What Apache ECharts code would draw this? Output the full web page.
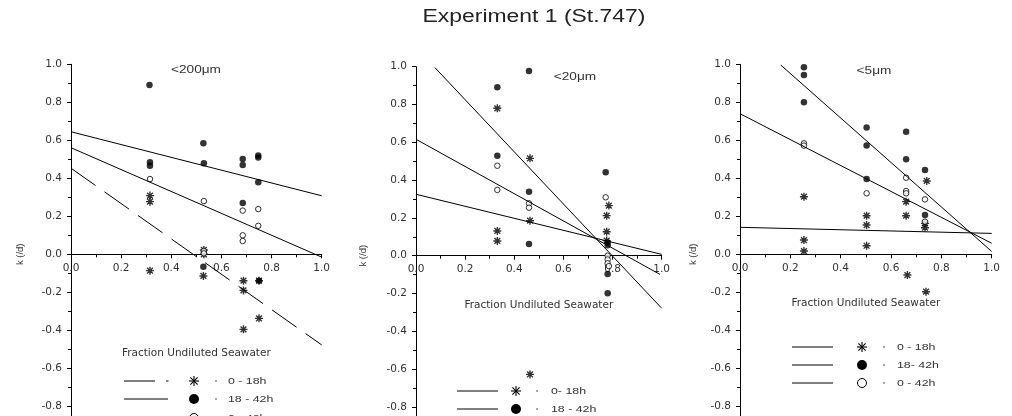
<!DOCTYPE html>
<html>
<head>
<meta charset="utf-8">
<script src="https://cdn.jsdelivr.net/npm/echarts@6/dist/echarts.min.js"></script>
<style>html,body{margin:0;padding:0;background:#fff}#c{width:1012px;height:416px}</style>
</head>
<body>
<div id="c"></div>
<script>
// ---- data ----
var title = 'Experiment 1 (St.747)';
var panelLabels = ['<200μm', '<20μm', '<5μm'];
var xName = 'Fraction Undiluted Seawater';
var yName = 'k (/d)';
var seriesNames = ['0 - 18h', '18 - 42h', '0 - 42h'];
var legendTexts = [
  ['0 - 18h', '18 - 42h', '0 - 42h'],
  ['0- 18h', '18 - 42h', '0 - 42h'],
  ['0 - 18h', '18- 42h', '0 - 42h']
];
var xTicks = [0, 0.2, 0.4, 0.6, 0.8, 1.0];
var yTicks = [-1.0, -0.8, -0.6, -0.4, -0.2, 0.0, 0.2, 0.4, 0.6, 0.8, 1.0];

// panel 1 (<200um)
var p1_0_18 = [[0.315,0.309],[0.315,0.277],[0.315,-0.086],[0.53,0.023],[0.53,0.0],[0.528,-0.114],[0.688,-0.139],[0.75,-0.139],[0.688,-0.19],[0.75,-0.337],[0.688,-0.395]];
var p1_18_42 = [[0.313,0.891],[0.315,0.484],[0.315,0.466],[0.528,0.584],[0.53,0.479],[0.685,0.501],[0.685,0.47],[0.747,0.52],[0.747,0.51],[0.747,0.379],[0.685,0.27],[0.528,-0.065],[0.75,-0.139]];
var p1_0_42 = [[0.315,0.396],[0.53,0.28],[0.685,0.23],[0.747,0.238],[0.747,0.15],[0.685,0.1],[0.685,0.07],[0.53,0.018],[0.53,0.005]];
var p1_fit_0_18 = [[0,0.453],[1,-0.477]];
var p1_fit_18_42 = [[0,0.645],[1,0.308]];
var p1_fit_0_42 = [[0,0.561],[1,-0.015]];

// panel 2 (<20um)
var p2_0_18 = [[0.331,0.78],[0.464,0.515],[0.464,0.185],[0.331,0.131],[0.331,0.078],[0.785,0.265],[0.776,0.212],[0.776,0.127],[0.776,0.08],[0.464,-0.628]];
var p2_18_42 = [[0.331,0.891],[0.46,0.977],[0.331,0.529],[0.46,0.339],[0.46,0.062],[0.772,0.441],[0.78,0.07],[0.78,0.055],[0.78,-0.097],[0.78,-0.199]];
var p2_0_42 = [[0.331,0.476],[0.331,0.348],[0.46,0.277],[0.46,0.254],[0.772,0.309],[0.78,0.0],[0.78,-0.02],[0.78,-0.04],[0.785,-0.055]];
var p2_fit_0_18 = [[0,0.325],[1,0.007]];
var p2_fit_18_42 = [[0.077,0.995],[1,-0.278]];
var p2_fit_0_42 = [[0,0.616],[0.993,-0.099]];

// panel 3 (<5um)
var p3_0_18 = [[0.254,0.303],[0.254,0.075],[0.254,0.017],[0.503,0.203],[0.503,0.154],[0.503,0.045],[0.66,0.277],[0.66,0.203],[0.742,0.386],[0.735,0.163],[0.735,0.14],[0.665,-0.109],[0.739,-0.197]];
var p3_18_42 = [[0.254,0.984],[0.254,0.944],[0.254,0.8],[0.503,0.668],[0.503,0.572],[0.503,0.396],[0.66,0.645],[0.66,0.5],[0.735,0.444],[0.735,0.207]];
var p3_0_42 = [[0.254,0.584],[0.254,0.572],[0.503,0.321],[0.66,0.403],[0.66,0.333],[0.66,0.321],[0.735,0.289],[0.735,0.172]];
var p3_fit_0_18 = [[0,0.142],[1,0.11]];
var p3_fit_18_42 = [[0.162,0.996],[1,0.015]];
var p3_fit_0_42 = [[0,0.74],[1,0.058]];

var panels = [
  {pts:[p1_0_18,p1_18_42,p1_0_42], fits:[p1_fit_0_18,p1_fit_18_42,p1_fit_0_42]},
  {pts:[p2_0_18,p2_18_42,p2_0_42], fits:[p2_fit_0_18,p2_fit_18_42,p2_fit_0_42]},
  {pts:[p3_0_18,p3_18_42,p3_0_42], fits:[p3_fit_0_18,p3_fit_18_42,p3_fit_0_42]}
];

// ---- layout / style ----
var grids = [
  {left:71, top:64.3, width:250.7, height:380},
  {left:416, top:66.7, width:245.7, height:378},
  {left:740, top:64.3, width:251.7, height:380}
];
var xNameGap = [93, 44, 43];
var yNameGap = [46, 48, 42];
var TXT = '#333';
var SX = 1.3;
var ASTER = 'path://M0,-5L0,5M-5,0L5,0M-3.6,-3.6L3.6,3.6M-3.6,3.6L3.6,-3.6';

var option = {
  backgroundColor:'#fff',
  animation:false,
  grid: grids.map(function(g){return Object.assign({containLabel:false, outerBoundsMode:'none'}, g);}),
  xAxis: grids.map(function(g,i){return {
    type:'value', gridIndex:i, min:xTicks[0], max:xTicks[xTicks.length-1], interval:0.2,
    position:'bottom', offset:-g.height/2,
    name:xName, nameLocation:'middle', nameGap:xNameGap[i],
    nameTextStyle:{fontFamily:'DejaVu Sans', fontSize:10.5, color:TXT},
    axisLine:{onZero:false, lineStyle:{color:'#000', width:1}},
    axisTick:{show:true, length:4, lineStyle:{color:'#000'}},
    minorTick:{show:true, splitNumber:2, length:3, lineStyle:{color:'#000'}},
    splitLine:{show:false},
    axisLabel:{show:true, formatter:function(v){return v.toFixed(1);}, fontFamily:'DejaVu Sans', fontSize:10.5, color:TXT, margin:8}
  };}),
  yAxis: grids.map(function(g,i){return {
    type:'value', gridIndex:i, min:yTicks[0], max:yTicks[yTicks.length-1], interval:0.2,
    name:yName, nameLocation:'middle', nameGap:yNameGap[i],
    nameTextStyle:{fontFamily:'Liberation Sans', fontSize:9.5, color:TXT},
    axisLine:{show:true, onZero:false, lineStyle:{color:'#000', width:1}},
    axisTick:{show:true, length:4, lineStyle:{color:'#000'}},
    minorTick:{show:true, splitNumber:2, length:3, lineStyle:{color:'#000'}},
    splitLine:{show:false},
    axisLabel:{formatter:function(v){return v.toFixed(1);}, fontFamily:'DejaVu Sans', fontSize:10.5, color:TXT, margin:9}
  };}),
  series: [],
  graphic: []
};

panels.forEach(function(p, i){
  p.fits.forEach(function(f, k){
    option.series.push({
      type:'line', name:seriesNames[k]+' fit', xAxisIndex:i, yAxisIndex:i, data:f,
      symbol:'none', silent:true,
      lineStyle:{color:'#000', width:1, type:(i===0 && k===0)?[30,11]:'solid'}
    });
  });
  option.series.push({type:'scatter', name:seriesNames[0], xAxisIndex:i, yAxisIndex:i, data:p.pts[0],
    symbol:ASTER, symbolSize:8, itemStyle:{color:'rgba(0,0,0,0)', borderColor:'#000', borderWidth:1.4}});
  option.series.push({type:'scatter', name:seriesNames[1], xAxisIndex:i, yAxisIndex:i, data:p.pts[1],
    symbol:'circle', symbolSize:6.5, itemStyle:{color:'#000'}});
  option.series.push({type:'scatter', name:seriesNames[2], xAxisIndex:i, yAxisIndex:i, data:p.pts[2],
    symbol:'circle', symbolSize:5.5, itemStyle:{color:'#fff', borderColor:'#000', borderWidth:1}});
});

function stext(x, y, s, size, align){
  return {type:'text', x:x, y:y, scaleX:SX, z:10,
    style:{text:s, fontFamily:'Liberation Sans', fontSize:size, fill:TXT, align:align||'left', verticalAlign:'middle', textAlign:align||'left', textVerticalAlign:'middle'}};
}
function seg(x1,y1,x2,y2,w){
  return {type:'line', z:10, shape:{x1:x1,y1:y1,x2:x2,y2:y2}, style:{stroke:'#000', lineWidth:w||1}};
}
function aster(cx, cy, r){
  var d = r*0.72;
  return [seg(cx,cy-r,cx,cy+r,1.1), seg(cx-r,cy,cx+r,cy,1.1), seg(cx-d,cy-d,cx+d,cy+d,1.1), seg(cx-d,cy+d,cx+d,cy-d,1.1)];
}
function dot(cx, cy){
  return {type:'circle', z:10, shape:{cx:cx, cy:cy, r:0.8}, style:{fill:'#333'}};
}

var G = option.graphic;
G.push({type:'text', x:534, y:17, scaleX:1.31, z:10,
  style:{text:title, fontFamily:'Liberation Sans', fontSize:17.5, fill:'#222', align:'center', verticalAlign:'middle', textAlign:'center', textVerticalAlign:'middle'}});
G.push(stext(196, 70, panelLabels[0], 10.5, 'center'));
G.push(stext(575, 77, panelLabels[1], 10.5, 'center'));
G.push(stext(874, 71, panelLabels[2], 10.5, 'center'));

var legends = [
  {lx1:124, lx2:168, mx:194, dx:216, tx:228, ys:[381, 399, 418]},
  {lx1:457, lx2:498, mx:516, dx:537, tx:551, ys:[391, 409, 427]},
  {lx1:792, lx2:833, mx:862, dx:884, tx:897, ys:[347, 365, 383]}
];
legends.forEach(function(L, i){
  L.ys.forEach(function(y, k){
    if (i===0 && k===0) { G.push(seg(L.lx1, y, 155, y)); G.push(seg(166, y, 168.5, y)); }
    else G.push(seg(L.lx1, y, L.lx2, y));
    if (k===0) aster(L.mx, y, 5).forEach(function(e){G.push(e);});
    else if (k===1) G.push({type:'circle', z:10, shape:{cx:L.mx, cy:y, r:5}, style:{fill:'#000'}});
    else G.push({type:'circle', z:10, shape:{cx:L.mx, cy:y, r:4.5}, style:{fill:'#fff', stroke:'#000', lineWidth:1}});
    G.push(dot(L.dx, y));
    G.push(stext(L.tx, y, legendTexts[i][k], 9.5, 'left'));
  });
});

var chart = echarts.init(document.getElementById('c'), null, {renderer:'canvas'});
chart.setOption(option);
</script>
</body>
</html>
